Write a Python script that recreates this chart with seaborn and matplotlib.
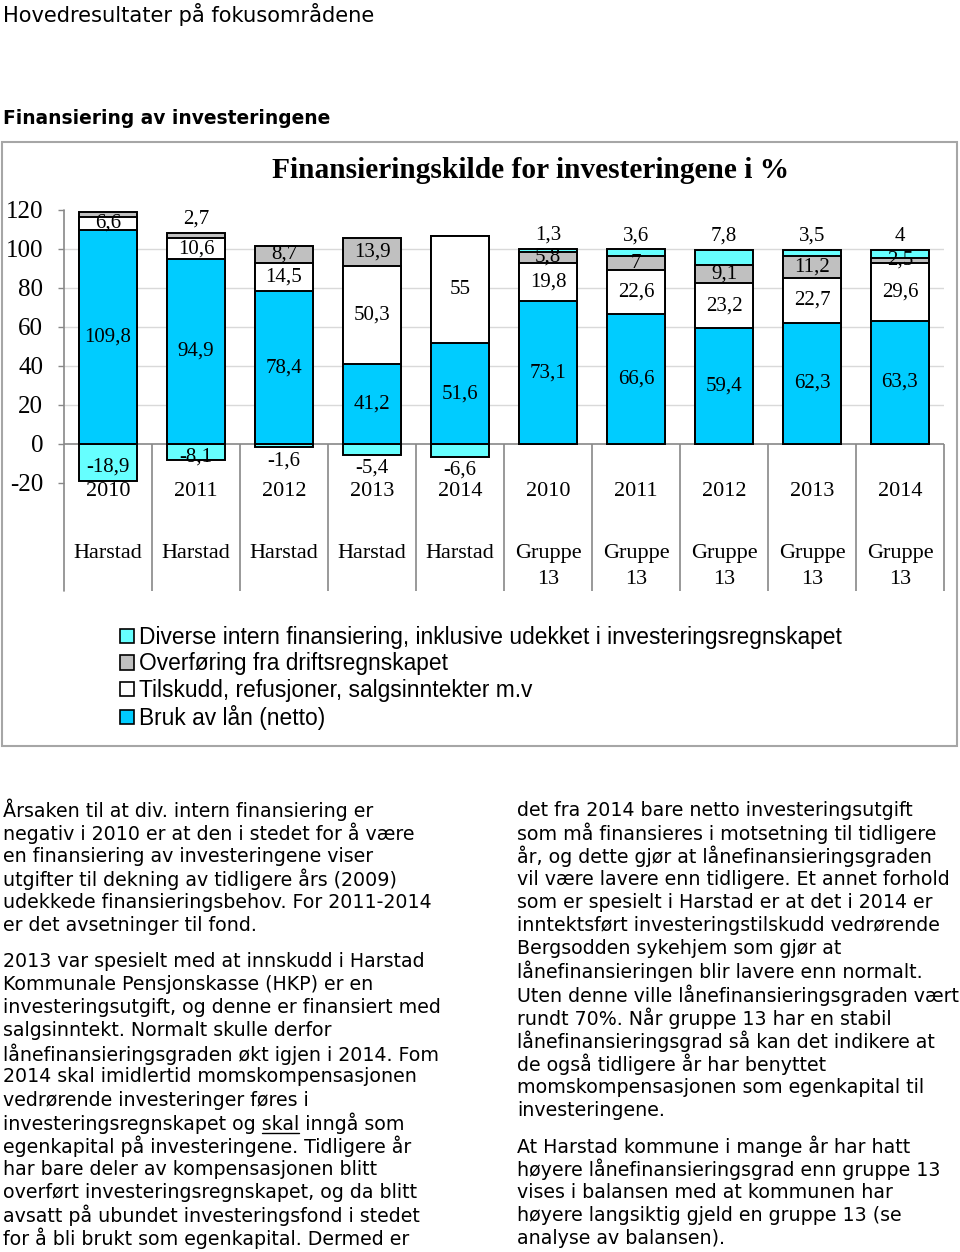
import numpy as np
import pandas as pd
import seaborn as sns
import matplotlib.pyplot as plt
import matplotlib.transforms as mtransforms
from matplotlib.patches import Patch, Rectangle

# data lest av figuren
grupper = ["Harstad"] * 5 + ["Gruppe\n13"] * 5
aar = ["2010", "2011", "2012", "2013", "2014"] * 2
laan = [109.8, 94.9, 78.4, 41.2, 51.6, 73.1, 66.6, 59.4, 62.3, 63.3]
tilskudd = [6.6, 10.6, 14.5, 50.3, 55, 19.8, 22.6, 23.2, 22.7, 29.6]
overforing = [2.5, 2.7, 8.7, 13.9, 0, 5.8, 7, 9.1, 11.2, 2.5]
diverse = [-18.9, -8.1, -1.6, -5.4, -6.6, 1.3, 3.6, 7.8, 3.5, 4]
vis_overforing = [False, True, True, True, False, True, True, True, True, True]

serier = ["Diverse intern finansiering, inklusive udekket i investeringsregnskapet",
          "Overføring fra driftsregnskapet",
          "Tilskudd, refusjoner, salgsinntekter m.v",
          "Bruk av lån (netto)"]
farger = ["#66FFFF", "#C0C0C0", "#FFFFFF", "#00CCFF"]

tekst_venstre = [
    ["Årsaken til at div. intern finansiering er",
     "negativ i 2010 er at den i stedet for å være",
     "en finansiering av investeringene viser",
     "utgifter til dekning av tidligere års (2009)",
     "udekkede finansieringsbehov. For 2011-2014",
     "er det avsetninger til fond."],
    ["2013 var spesielt med at innskudd i Harstad",
     "Kommunale Pensjonskasse (HKP) er en",
     "investeringsutgift, og denne er finansiert med",
     "salgsinntekt. Normalt skulle derfor",
     "lånefinansieringsgraden økt igjen i 2014. Fom",
     "2014 skal imidlertid momskompensasjonen",
     "vedrørende investeringer føres i",
     "investeringsregnskapet og skal inngå som",
     "egenkapital på investeringene. Tidligere år",
     "har bare deler av kompensasjonen blitt",
     "overført investeringsregnskapet, og da blitt",
     "avsatt på ubundet investeringsfond i stedet",
     "for å bli brukt som egenkapital. Dermed er"],
]
tekst_hoyre = [
    ["det fra 2014 bare netto investeringsutgift",
     "som må finansieres i motsetning til tidligere",
     "år, og dette gjør at lånefinansieringsgraden",
     "vil være lavere enn tidligere. Et annet forhold",
     "som er spesielt i Harstad er at det i 2014 er",
     "inntektsført investeringstilskudd vedrørende",
     "Bergsodden sykehjem som gjør at",
     "lånefinansieringen blir lavere enn normalt.",
     "Uten denne ville lånefinansieringsgraden vært",
     "rundt 70%. Når gruppe 13 har en stabil",
     "lånefinansieringsgrad så kan det indikere at",
     "de også tidligere år har benyttet",
     "momskompensasjonen som egenkapital til",
     "investeringene."],
    ["At Harstad kommune i mange år har hatt",
     "høyere lånefinansieringsgrad enn gruppe 13",
     "vises i balansen med at kommunen har",
     "høyere langsiktig gjeld en gruppe 13 (se",
     "analyse av balansen)."],
]

W, H = 960, 1252
sns.set_style("white")
plt.rcParams["font.family"] = ["DejaVu Sans"]
plt.rcParams["text.color"] = "black"
plt.rcParams["ytick.color"] = "black"

df = pd.DataFrame({"kat": [g.split("\n")[0] + " " + a for g, a in zip(grupper, aar)],
                   "laan": laan, "tilskudd": tilskudd,
                   "overforing": overforing, "diverse": diverse})
t1 = df["laan"]
t2 = t1 + df["tilskudd"]
t3 = t2 + df["overforing"]
t4 = np.where(df["diverse"] > 0, t3 + df["diverse"], df["diverse"])
df["t1"], df["t2"], df["t3"], df["t4"] = t1, t2, t3, t4

fig = plt.figure(figsize=(W / 100, H / 100), dpi=100)
fig.patch.set_facecolor("white")
ax = fig.add_axes([64 / W, 1 - 483 / H, 880 / W, 273 / H])

# stablede stolper: tegnes ovenpa hverandre fra hoyeste sum
for kol, farge in zip(["t4", "t3", "t2", "t1"], farger):
    sns.barplot(data=df, x="kat", y=kol, color=farge, saturation=1, width=0.66,
                edgecolor="black", linewidth=1.4, errorbar=None, ax=ax, zorder=3)

ax.set_xlim(-0.5, 9.5)
ax.set_ylim(-20, 120)
ax.set_xlabel("")
ax.set_ylabel("")
ax.set_xticks([])
ax.set_yticks(range(-20, 121, 20))
ax.set_yticklabels([str(v) for v in range(-20, 121, 20)], family="Liberation Serif", fontsize=18)
ax.tick_params(axis="y", length=4.5, width=1, color="#888888", labelcolor="black",
               pad=10.5, left=True)
for s in ax.spines.values():
    s.set_visible(False)
for v in range(20, 101, 20):
    ax.axhline(v, color="#D9D9D9", lw=1, zorder=1)
ax.axhline(0, color="#888888", lw=1.2, zorder=2)

# kategoriakse i to nivaer
px = 273 / 140
bunn = -20 - (591 - 483) / px
ax.plot([-0.5, -0.5], [bunn, 120], color="#888888", lw=1.2, clip_on=False)
ax.vlines(np.arange(0.5, 10, 1), bunn, 0, color="#888888", lw=1.2, clip_on=False)
trans = mtransforms.blended_transform_factory(ax.transData, fig.transFigure)
for i, (g, a) in enumerate(zip(grupper, aar)):
    ax.text(i, 1 - 491 / H, a, transform=trans, ha="center", va="center",
            family="Liberation Serif", fontsize=16)
    ax.text(i, 1 - 544 / H, g, transform=trans, ha="center", va="top",
            family="Liberation Serif", fontsize=16, linespacing=1.5)


def fmt(v):
    return f"{v:g}".replace(".", ",")


lab = dict(ha="center", va="center", family="Liberation Serif", fontsize=15, zorder=5)
for i in range(len(df)):
    ax.text(i, laan[i] / 2, fmt(laan[i]), **lab)
    ax.text(i, t1[i] + tilskudd[i] / 2, fmt(tilskudd[i]), **lab)
    if vis_overforing[i]:
        if diverse[i] < 0 and overforing[i] < 5:
            ax.text(i, t3[i] + 7, fmt(overforing[i]), **lab)
        else:
            ax.text(i, t2[i] + overforing[i] / 2, fmt(overforing[i]), **lab)
    if diverse[i] > 0:
        ax.text(i, t4[i] + 7, fmt(diverse[i]), **lab)
    elif diverse[i] > -8:
        ax.text(i, diverse[i] - 7, fmt(diverse[i]), **lab)
    else:
        ax.text(i, diverse[i] / 2 - 2.5, fmt(diverse[i]), **lab)

fig.text(531 / W, 1 - 170 / H, "Finansieringskilde for investeringene i %", ha="center",
         va="center", family="Liberation Serif", weight="bold", fontsize=21.2)

handles = [Patch(facecolor=f, edgecolor="black", lw=1.2) for f in farger]
fig.legend(handles, serier, loc="upper left", bbox_to_anchor=(120 / W, 1 - 626 / H),
           frameon=False, prop={"family": "Liberation Sans", "size": 16.4},
           handlelength=0.6, handleheight=0.6, handletextpad=0.25, labelspacing=0.15,
           borderpad=0, borderaxespad=0)

fig.add_artist(Rectangle((2 / W, 1 - 746 / H), 955 / W, 604 / H, transform=fig.transFigure,
                         fill=False, edgecolor="#A6A6A6", lw=1.5))

fig.text(3 / W, 1 - 15 / H, "Hovedresultater på fokusområdene", fontsize=15.1, va="center")
fig.text(3 / W, 1 - 118 / H, "Finansiering av investeringene", fontsize=13.4,
         weight="bold", va="center")

# brodtekst i to spalter
steg = 23.1
str_tekst = 13.7
for x0, avsnitt in [(3, tekst_venstre), (517, tekst_hoyre)]:
    y = 810
    for linjer in avsnitt:
        for linje in linjer:
            fig.text(x0 / W, 1 - y / H, linje, fontsize=str_tekst, va="center")
            if linje.startswith("investeringsregnskapet og skal"):
                r = fig.canvas.get_renderer()
                hel = fig.text(x0 / W, 0, "investeringsregnskapet og skal", fontsize=str_tekst)
                ord_ = fig.text(x0 / W, 0, "skal", fontsize=str_tekst)
                b_hel = hel.get_window_extent(r)
                b_ord = ord_.get_window_extent(r)
                hel.remove()
                ord_.remove()
                x2 = b_hel.x1
                x1 = x2 - b_ord.width
                yl = 1 - (y + 9.5) / H
                fig.add_artist(plt.Line2D([x1 / W, x2 / W], [yl, yl], color="black", lw=1))
            y += steg
        y += 36 - steg

fig.savefig("out.png", dpi=100)
